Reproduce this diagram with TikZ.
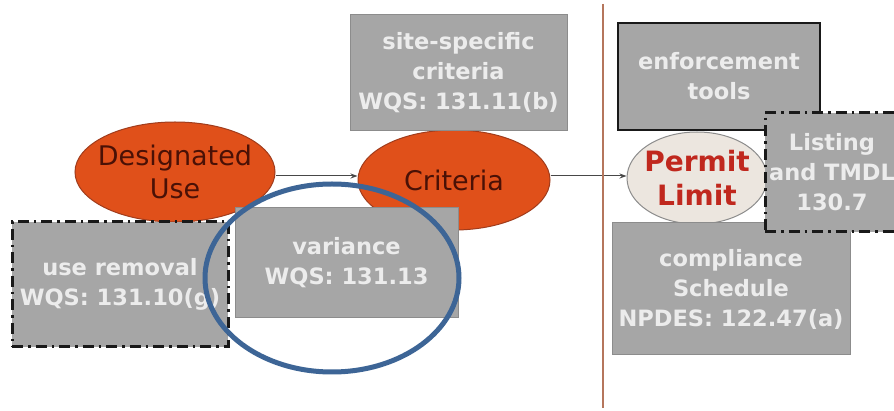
\documentclass[tikz,border=0pt]{standalone}
\usepackage{fontspec}
\setmainfont{DejaVu Sans}
\usetikzlibrary{shapes.geometric,arrows.meta}

\definecolor{boxgray}{HTML}{A6A6A6}
\definecolor{boxedge}{HTML}{8C8C8C}
\definecolor{boxtext}{HTML}{ECECEC}
\definecolor{ellfill}{HTML}{E0501A}
\definecolor{elledge}{HTML}{A03C1C}
\definecolor{elltext}{HTML}{4A1106}
\definecolor{permitfill}{HTML}{ECE6DF}
\definecolor{permittext}{HTML}{C0281E}
\definecolor{ringblue}{HTML}{3D6596}
\definecolor{divider}{HTML}{B5765C}
\definecolor{flow}{HTML}{474747}

\tikzset{
  gbox/.style={draw=boxedge, line width=1pt, fill=boxgray, text=boxtext,
    font=\bfseries\fontsize{22.5}{30}\selectfont, align=center, inner sep=0pt},
  dashbox/.style={gbox, draw=black!90, line width=3pt,
    dash pattern=on 11pt off 5pt on 2.5pt off 5pt},
  darkbox/.style={gbox, draw=black!90, line width=2pt},
  oval/.style={shape=ellipse, draw=elledge, line width=1pt, fill=ellfill, inner sep=0pt},
  ovaltext/.style={text=elltext, font=\fontsize{27}{33}\selectfont, align=center},
  permitoval/.style={shape=ellipse, draw=black!45, line width=1pt, fill=permitfill, inner sep=0pt},
  permitlbl/.style={text=permittext, font=\bfseries\fontsize{28}{34}\selectfont, align=center},
  flowarrow/.style={draw=flow, line width=1pt, -{Stealth[length=7pt,width=5pt]}},
  ring/.style={shape=ellipse, draw=ringblue, line width=5pt, inner sep=0pt},
}

\begin{document}
\begin{tikzpicture}[x=1pt,y=-1pt]
  \useasboundingbox (0,0) rectangle (894,411);
  \clip (0,0) rectangle (894,411);
  \fill[white] (0,0) rectangle (894,411);

  % ovals
  \node[oval, minimum width=200pt, minimum height=100pt,
        label={[ovaltext]center:Designated\\Use}] (du) at (175,172) {};
  \node[oval, minimum width=192pt, minimum height=100pt,
        label={[ovaltext]center:Criteria}] (cr) at (454,180) {};
  \node[permitoval, minimum width=140pt, minimum height=92pt,
        label={[permitlbl]center:Permit\\Limit}] (pl) at (697,178) {};

  % flow arrows along the main row
  \coordinate (row) at (0,176);
  \draw[flowarrow] (du.east |- row) -- (cr.west |- row);
  \draw[flowarrow] (cr.east |- row) -- (pl.west |- row);

  % divider between standards and permitting
  \coordinate (divtop) at (603,4);
  \coordinate (divbot) at (603,408);
  \draw[divider, line width=2pt] (divtop) -- (divbot);

  % boxes
  \node[gbox, minimum width=217pt, minimum height=116pt] (site) at (458.5,73)
    {site-specific\\criteria\\WQS: 131.11(b)};
  \node[dashbox, minimum width=216pt, minimum height=125pt] (removal) at (120,284.5)
    {use removal\\WQS: 131.10(g)};
  \node[gbox, minimum width=223pt, minimum height=110pt] (variance) at (346.5,263)
    {variance\\WQS: 131.13};
  \node[darkbox, minimum width=202pt, minimum height=107pt] (enforce) at (719,76.5)
    {enforcement\\tools};
  \node[gbox, minimum width=238pt, minimum height=132pt] (comply) at (731,289)
    {compliance\\Schedule\\NPDES: 122.47(a)};
  \node[dashbox, minimum width=134pt, minimum height=119pt] (listing) at (832,172.5)
    {Listing\\and TMDL\\130.7};

  % highlight ring round the variance
  \node[ring, minimum width=254pt, minimum height=188pt] (focus) at (332,278) {};
\end{tikzpicture}
\end{document}
